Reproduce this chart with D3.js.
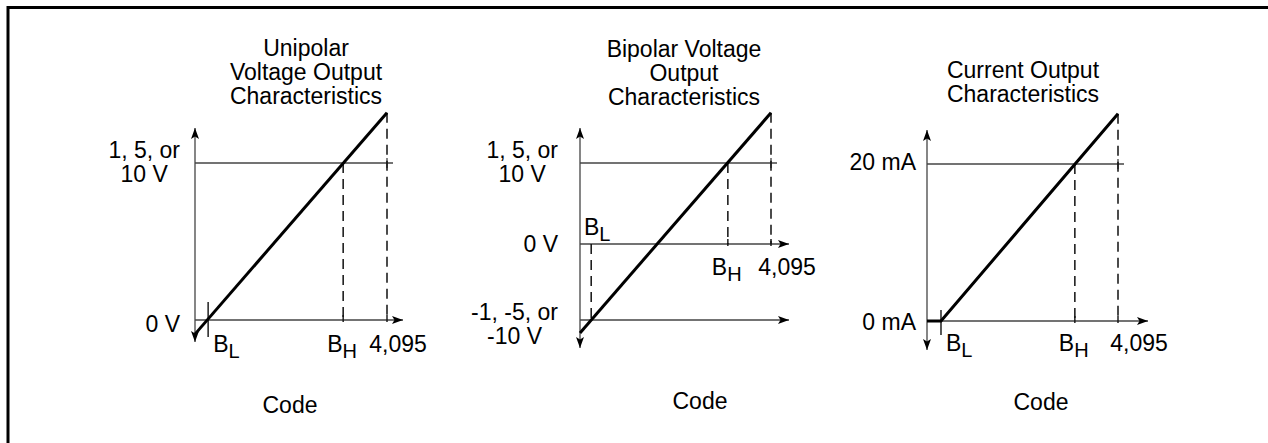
<!DOCTYPE html>
<html lang="en">
<head>
<meta charset="UTF-8">
<script src="https://d3js.org/d3.v7.min.js"></script>
<title>Output Characteristics</title>
<style>
  body { margin: 0; background: #fff; }
  text { font-family: "Liberation Sans", Arial, sans-serif; font-size: 23px; fill: #000; }
</style>
</head>
<body>
<div id="chart"></div>
<script>

// codes run from 0 to 4,095; B_L and B_H are the low / high break codes
var fullCode = 4095;
var fullCodeLabel = "4,095";

// Unipolar voltage output (full scale normalised to 1)
var uniTitle = ["Unipolar", "Voltage Output", "Characteristics"];
var uniCodes = [280, 3160];                 // B_L, B_H
var uniLevels = [0, 1];
var uniLevelLabels = [["0 V"], ["1, 5, or", "10 V"]];
var uniCurve = [[0, -0.09], [4095, 1.32]];

// Bipolar voltage output (+/- full scale normalised to 1)
var bipTitle = ["Bipolar Voltage", "Output", "Characteristics"];
var bipCodes = [240, 3170];
var bipLevels = [-1, 0, 1];
var bipLevelLabels = [["-1, -5, or", "-10 V"], ["0 V"], ["1, 5, or", "10 V"]];
var bipCurve = [[0, -1.17], [4095, 1.62]];

// Current output in mA
var curTitle = ["Current Output", "Characteristics"];
var curCodes = [300, 3170];
var curLevels = [0, 20];
var curLevelLabels = [["0 mA"], ["20 mA"]];
var curCurve = [[0, 0], [300, 0], [4095, 26.4]];

var axisLabel = "Code";

var svg = d3.select("#chart")
  .append("svg")
    .attr("width", 1268)
    .attr("height", 443);

// arrow head
svg.append("defs").append("marker")
    .attr("id", "arrow")
    .attr("viewBox", "0 0 11 8")
    .attr("refX", 11)
    .attr("refY", 4)
    .attr("markerWidth", 11)
    .attr("markerHeight", 8)
    .attr("markerUnits", "userSpaceOnUse")
    .attr("orient", "auto-start-reverse")
  .append("path")
    .attr("d", "M0,0L11,4L0,8L2.5,4Z")
    .attr("fill", "#000");

// frame (only top and left edges show)
svg.append("path")
    .attr("d", "M8,443V7.5H1268")
    .attr("fill", "none")
    .attr("stroke", "#000")
    .attr("stroke-width", 3);

var axisColor = "#444";

function subLabel(g, xPos, yPos, sub, anchor) {
  var t = g.append("text")
      .attr("x", xPos)
      .attr("y", yPos)
      .attr("text-anchor", anchor);
  t.append("tspan").text("B");
  t.append("tspan").attr("dy", 6).style("font-size", "20px").text(sub);
  return t;
}

function drawPanel(p) {
  var g = svg.append("g");

  var x = d3.scaleLinear().domain([0, fullCode]).range(p.xRange);
  var y = d3.scaleLinear().domain(p.yDomain).range(p.yRange);

  var x0 = x(0), y0 = y(0);
  var top = d3.max(p.levels), low = d3.min(p.levels);
  var xEnd = x(fullCode);

  // vertical axis, arrows both ways
  g.append("line")
      .attr("x1", x0).attr("x2", x0)
      .attr("y1", y(low) + p.yAxisExt[0])
      .attr("y2", y(top) - p.yAxisExt[1])
      .attr("stroke", axisColor)
      .attr("stroke-width", 1.3)
      .attr("marker-start", "url(#arrow)")
      .attr("marker-end", "url(#arrow)");

  // horizontal level lines
  p.levels.forEach(function(v) {
    if (v === top) {
      g.append("line")
          .attr("x1", x0).attr("x2", xEnd + 6)
          .attr("y1", y(v)).attr("y2", y(v))
          .attr("stroke", axisColor).attr("stroke-width", 1.3);
      g.append("line")
          .attr("x1", xEnd).attr("x2", xEnd)
          .attr("y1", y(v) - 5).attr("y2", y(v) + 5)
          .attr("stroke", axisColor).attr("stroke-width", 1.3);
    } else {
      g.append("line")
          .attr("x1", x0).attr("x2", xEnd + p.xArrowExt)
          .attr("y1", y(v)).attr("y2", y(v))
          .attr("stroke", axisColor).attr("stroke-width", 1.3)
          .attr("marker-end", "url(#arrow)");
    }
  });

  var bl = p.codes[0], bh = p.codes[1];
  var curveEnd = p.curve[p.curve.length - 1];

  // dashed guides
  var dashes = [
    [x(bh), y(top), y0],
    [xEnd, y(curveEnd[1]), y0]
  ];
  if (p.blDashed) dashes.push([x(bl), y0, y(low)]);
  g.selectAll(".guide")
    .data(dashes)
    .enter()
    .append("line")
      .attr("class", "guide")
      .attr("x1", function(d) { return d[0]; })
      .attr("x2", function(d) { return d[0]; })
      .attr("y1", function(d) { return d[1]; })
      .attr("y2", function(d) { return d[2]; })
      .attr("stroke", "#111")
      .attr("stroke-width", 1.5)
      .attr("stroke-dasharray", "10,6");

  // small ticks where guides meet the axis
  [x(bh), xEnd].forEach(function(xv) {
    g.append("line")
        .attr("x1", xv).attr("x2", xv)
        .attr("y1", y0 - 5).attr("y2", y0 + 2)
        .attr("stroke", "#111").attr("stroke-width", 1.4);
  });

  if (!p.blDashed) {
    g.append("line")
        .attr("x1", x(bl)).attr("x2", x(bl))
        .attr("y1", y0 - p.blTick[0]).attr("y2", y0 + p.blTick[1])
        .attr("stroke", "#111").attr("stroke-width", 1.4);
  }

  // transfer curve
  g.append("path")
      .datum(p.curve)
      .attr("d", d3.line()
        .x(function(d) { return x(d[0]); })
        .y(function(d) { return y(d[1]); }))
      .attr("fill", "none")
      .attr("stroke", "#000")
      .attr("stroke-width", 3);

  // code labels
  if (p.blDashed) {
    subLabel(g, x0 + 4, y0 - 9, "L", "start");
  } else {
    subLabel(g, x(bl) + 5, y0 + p.codeDy, "L", "start");
  }
  subLabel(g, x(bh) - 16, y0 + p.codeDy, "H", "start");
  g.append("text")
      .attr("x", xEnd + p.fullDx)
      .attr("y", y0 + p.codeDy)
      .attr("text-anchor", "middle")
      .text(fullCodeLabel);

  // level labels: lines centred in a block, block right-aligned to the axis
  p.levels.forEach(function(v, i) {
    var lines = p.levelLabels[i];
    var texts = lines.map(function(s, k) {
      return g.append("text")
          .attr("y", y(v) + p.levelDy[i] + k * 24)
          .attr("text-anchor", "middle")
          .text(s);
    });
    var w = d3.max(texts, function(t) { return t.node().getComputedTextLength(); });
    texts.forEach(function(t) { t.attr("x", x0 - p.labelGap - w / 2); });
  });

  // title
  p.title.forEach(function(s, k) {
    g.append("text")
        .attr("x", p.titlePos[0])
        .attr("y", p.titlePos[1] + k * 24)
        .attr("text-anchor", "middle")
        .text(s);
  });

  g.append("text")
      .attr("x", p.codePos[0])
      .attr("y", p.codePos[1])
      .attr("text-anchor", "middle")
      .text(axisLabel);
}

drawPanel({
  title: uniTitle, codes: uniCodes, levels: uniLevels,
  levelLabels: uniLevelLabels, curve: uniCurve,
  xRange: [195, 387], yDomain: [0, 1], yRange: [320, 163],
  yAxisExt: [22, 35], xArrowExt: 16, blDashed: false, blTick: [18, 17],
  codeDy: 32, fullDx: 11, levelDy: [12, -5], labelGap: 15,
  titlePos: [306, 56], codePos: [290, 413]
});

drawPanel({
  title: bipTitle, codes: bipCodes, levels: bipLevels,
  levelLabels: bipLevelLabels, curve: bipCurve,
  xRange: [580, 771], yDomain: [-1, 0, 1], yRange: [320, 244, 163],
  yAxisExt: [28, 35], xArrowExt: 18, blDashed: true, blTick: [0, 0],
  codeDy: 31, fullDx: 16, levelDy: [0, 8, -5], labelGap: 22,
  titlePos: [684, 57], codePos: [700, 409]
});

drawPanel({
  title: curTitle, codes: curCodes, levels: curLevels,
  levelLabels: curLevelLabels, curve: curCurve,
  xRange: [927, 1118], yDomain: [0, 20], yRange: [321, 164],
  yAxisExt: [29, 34], xArrowExt: 30, blDashed: false, blTick: [11, 14],
  codeDy: 30, fullDx: 21, levelDy: [9, 6], labelGap: 11,
  titlePos: [1023, 78], codePos: [1041, 410]
});

</script>
</body>
</html>
